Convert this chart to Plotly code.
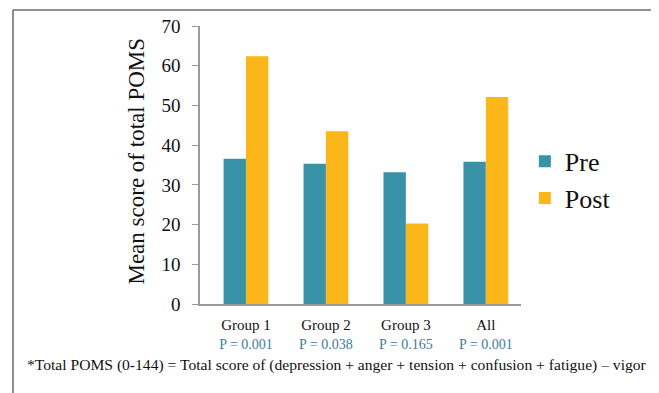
import plotly.graph_objects as go

categories = ["Group 1", "Group 2", "Group 3", "All"]
p_values = ["P = 0.001", "P = 0.038", "P = 0.165", "P = 0.001"]
pre_values = [36.6, 35.3, 33.2, 35.8]
post_values = [62.4, 43.5, 20.3, 52.1]
y_ticks = [0, 10, 20, 30, 40, 50, 60, 70]

TEAL = "#3893a8"
ORANGE = "#fbb61a"
PCOLOR = "#3a8095"
FONT = "'Liberation Serif', 'Times New Roman', Times, serif"
FRAME = dict(color="#6a6a6a", width=1.5)

x_idx = list(range(len(categories)))
ticktext = [
    f"{c}<br><span style='color:{PCOLOR};font-size:14px'>{p}</span>"
    for c, p in zip(categories, p_values)
]

fig = go.Figure()
fig.add_trace(go.Bar(x=x_idx, y=pre_values, name="Pre", marker_color=TEAL,
                     marker_line_width=0))
fig.add_trace(go.Bar(x=x_idx, y=post_values, name="Post", marker_color=ORANGE,
                     marker_line_width=0))

fx0, fx1, fy0, fy1 = -0.5826, 1.4237, -0.34, 1.0576
frame = [
    dict(type="line", xref="paper", yref="paper", x0=fx0, x1=fx0, y0=fy0, y1=fy1, line=FRAME),
    dict(type="line", xref="paper", yref="paper", x0=fx1, x1=fx1, y0=fy0, y1=fy1, line=FRAME),
    dict(type="line", xref="paper", yref="paper", x0=fx0, x1=fx1, y0=fy1, y1=fy1, line=FRAME),
]

fig.update_layout(
    width=659, height=393,
    margin=dict(l=192, r=146, t=18, b=97, autoexpand=False),
    paper_bgcolor="white", plot_bgcolor="white",
    barmode="group", bargap=0.44, bargroupgap=0,
    font=dict(family=FONT, color="#111111"),
    showlegend=True,
    legend=dict(x=1.012, y=0.447, xanchor="left", yanchor="middle",
                font=dict(size=26, family=FONT, color="#111111"),
                tracegroupgap=4, itemwidth=30, bgcolor="rgba(0,0,0,0)"),
    xaxis=dict(
        tickmode="array", tickvals=x_idx, ticktext=ticktext, automargin=False,
        range=[-0.575, 3.44], showline=True, linecolor="#9a9a9a", linewidth=1.5,
        ticks="", tickfont=dict(size=15, family=FONT, color="#111111"),
        ticklabelstandoff=6,
        showgrid=False, zeroline=False, fixedrange=True,
    ),
    yaxis=dict(
        range=[0, 70], tickvals=y_ticks, showline=True, linecolor="#9a9a9a",
        automargin=False,
        linewidth=1.5, ticks="outside", ticklen=6, tickcolor="#9a9a9a",
        ticklabelstandoff=8,
        tickfont=dict(size=19, family=FONT, color="#111111"),
        showgrid=False, zeroline=False, fixedrange=True,
    ),
    shapes=frame,
    annotations=[
        dict(text="Mean score of total POMS", xref="paper", yref="paper",
             x=-0.198, y=0.514, textangle=-90, showarrow=False,
             font=dict(size=23, family=FONT, color="#111111"),
             xanchor="center", yanchor="middle"),
        dict(text="*Total POMS (0-144) = Total score of (depression + anger + tension + confusion + fatigue) \u2013 vigor",
             xref="paper", yref="paper", x=0.426, y=-0.219, showarrow=False,
             font=dict(size=15.6, family=FONT, color="#111111"),
             xanchor="center", yanchor="middle"),
    ],
)

fig.write_html("out.html")
